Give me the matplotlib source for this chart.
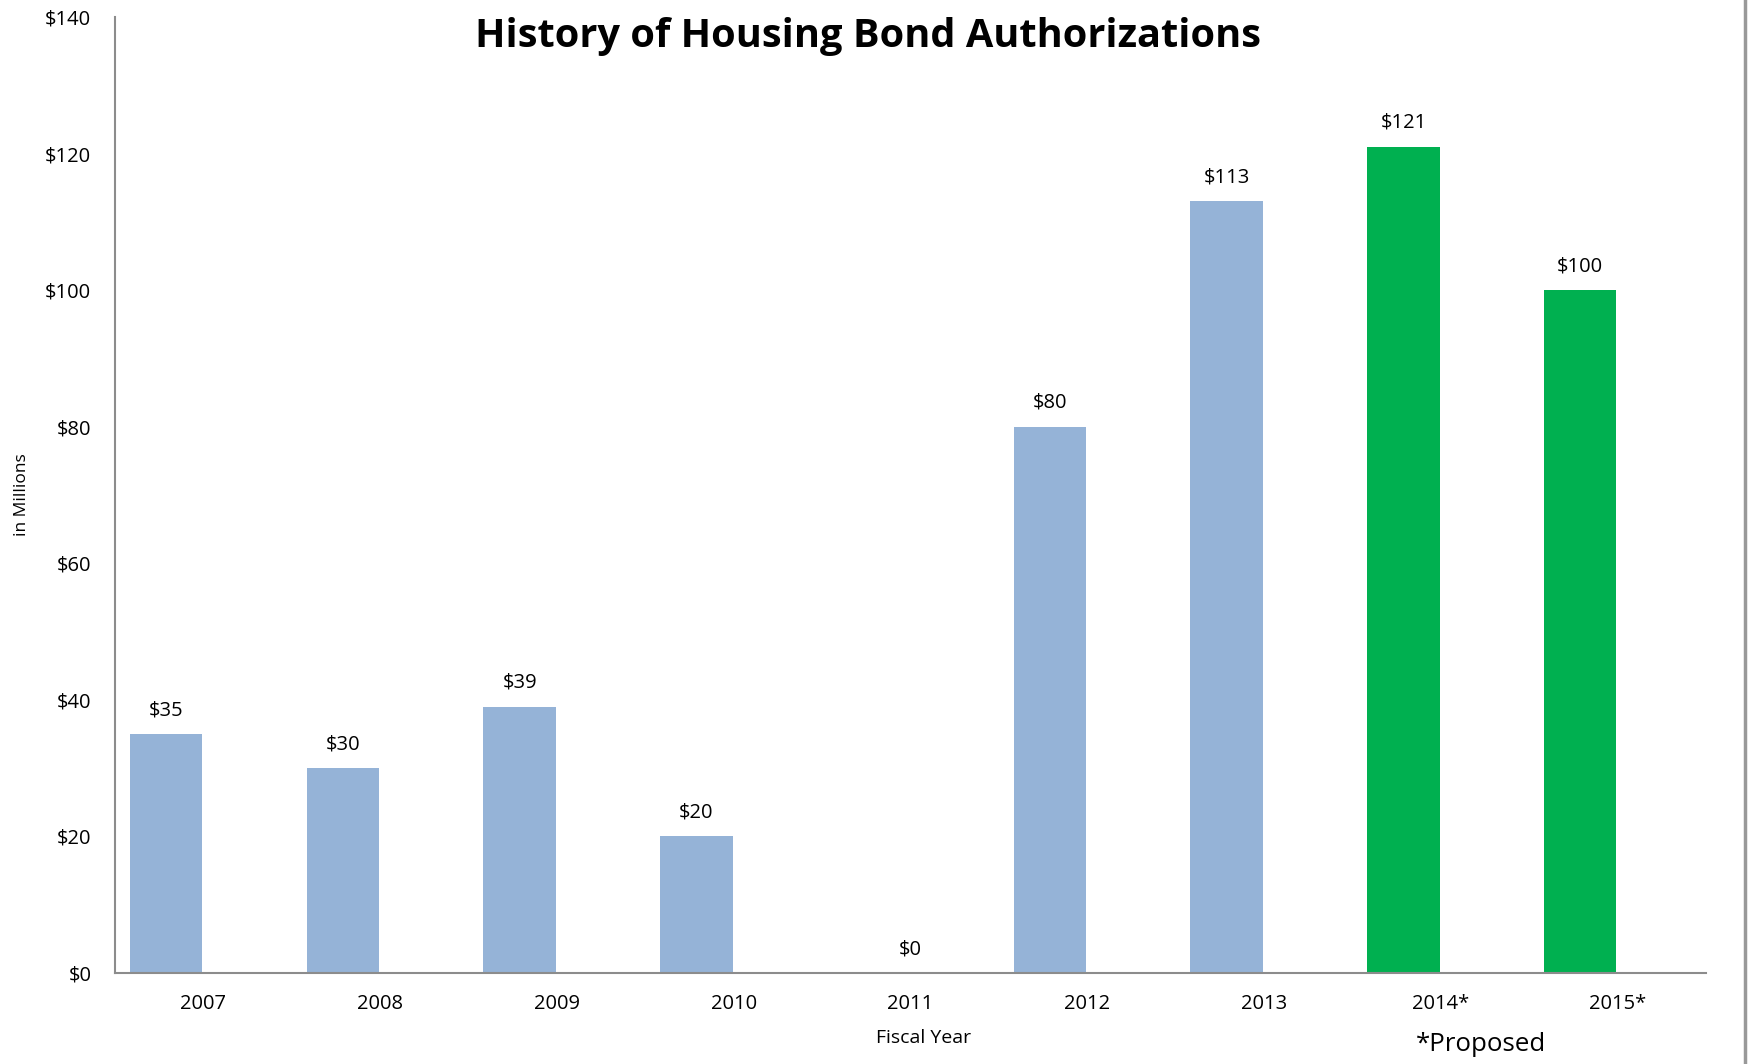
import matplotlib.pyplot as plt
from matplotlib.lines import Line2D

years = ['2007', '2008', '2009', '2010', '2011', '2012', '2013', '2014*', '2015*']
amounts = [35, 30, 39, 20, 0, 80, 113, 121, 100]
proposed = [False, False, False, False, False, False, False, True, True]
yticks = [0, 20, 40, 60, 80, 100, 120, 140]

blue = '#95B3D7'
green = '#00B050'
plt.rcParams['font.family'] = ['Open Sans', 'DejaVu Sans']

fig = plt.figure(figsize=(17.52, 10.64), dpi=100, facecolor='w')
ax = fig.add_axes([0.0656, 0.0855, 0.908, 0.8985])

xs = list(range(len(years)))
bar_x = [x - 0.21 for x in xs]
colors = [green if p else blue for p in proposed]
ax.bar(bar_x, amounts, width=0.41, color=colors, zorder=2)

for x, bx, v in zip(xs, bar_x, amounts):
    # the zero label sits over the category, not the (empty) bar
    lx = x if v == 0 else bx
    ax.annotate(f'${v}', (lx, v), xytext=(0, 10), textcoords='offset points',
                ha='center', va='bottom', fontsize=14.5)

ax.set_xlim(-0.5, len(years) - 0.5)
ax.set_ylim(0, 140)
ax.set_xticks(xs)
ax.set_xticklabels(years, fontsize=14.5)
ax.set_yticks(yticks)
ax.set_yticklabels([f'${t}' for t in yticks], fontsize=14.5)
ax.tick_params(axis='y', length=0, pad=17)
ax.tick_params(axis='x', length=0, pad=15)

for s in ['top', 'right']:
    ax.spines[s].set_visible(False)
for s in ['left', 'bottom']:
    ax.spines[s].set_color('#8c8c8c')
    ax.spines[s].set_linewidth(1.5)

ax.set_ylabel('in Millions', fontsize=12.5, labelpad=11)
ax.set_xlabel('Fiscal Year', fontsize=14)
ax.xaxis.set_label_coords(0.508, -0.059)

fig.text(0.4955, 0.966, 'History of Housing Bond Authorizations',
         ha='center', va='center', fontsize=28.6, fontweight='bold')
fig.text(0.808, 0.018, '*Proposed', ha='left', va='center', fontsize=18.6)

fig.add_artist(Line2D([0.996, 0.996], [0, 1], color='#999999', lw=2.5,
                      transform=fig.transFigure))

fig.savefig('out.png', dpi=100)
